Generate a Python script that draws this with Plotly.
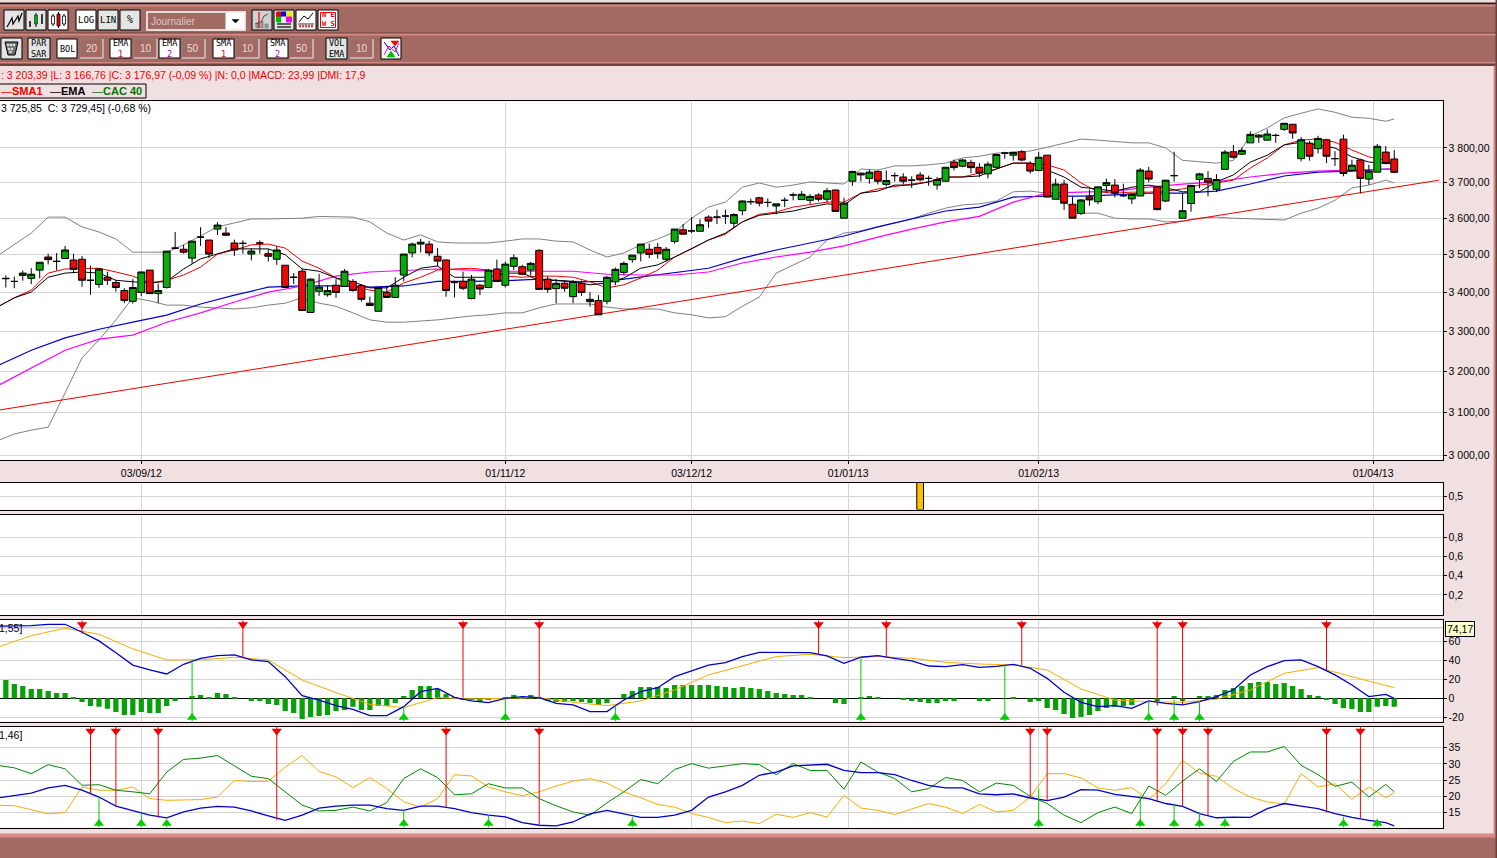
import numpy as np
import plotly.graph_objects as go

W, H = 1497, 858

opens = [3436, 3429, 3445, 3437, 3459, 3494, 3483, 3490, 3486, 3488,
         3432, 3421, 3440, 3426, 3405, 3377, 3400, 3459, 3397, 3413,
         3518, 3515, 3491, 3548, 3540, 3570, 3559, 3532, 3531, 3502,
         3532, 3503, 3488, 3472, 3440, 3456, 3348, 3403, 3394, 3419,
         3416, 3429, 3418, 3372, 3351, 3400, 3387, 3446, 3505, 3529,
         3529, 3496, 3486, 3426, 3429, 3384, 3419, 3413, 3462,
         3419, 3469, 3468, 3459, 3512, 3435, 3410, 3424, 3389, 3424,
         3376, 3379, 3377, 3428, 3453, 3487, 3505, 3515, 3520, 3488,
         3536, 3568, 3565, 3564, 3603, 3603, 3606, 3586, 3621, 3646,
         3657, 3644, 3634, 3650, 3665, 3652, 3650, 3665, 3653, 3679,
         3600, 3704, 3727, 3712, 3732, 3695, 3720, 3716, 3707, 3722,
         3712, 3693, 3704, 3759, 3747, 3758, 3744, 3725, 3744, 3785,
         3779, 3789, 3755, 3735, 3779, 3653, 3696, 3639, 3613, 3660,
         3646, 3692, 3693, 3663, 3654, 3662, 3733, 3688, 3648, 3720,
         3600, 3641, 3709, 3712, 3681, 3738, 3789, 3782, 3815, 3832,
         3823, 3837, 3855, 3870, 3769, 3814, 3798, 3824, 3769, 3826,
         3735, 3765, 3710, 3730, 3788, 3768]
highs = [3445, 3442, 3458, 3464, 3480, 3503, 3505, 3524, 3503, 3497,
         3471, 3464, 3455, 3433, 3411, 3435, 3455, 3459, 3423, 3510,
         3562, 3527, 3537, 3575, 3540, 3589, 3575, 3541, 3539, 3518,
         3539, 3515, 3523, 3472, 3451, 3462, 3437, 3449, 3419, 3435,
         3462, 3435, 3422, 3389, 3413, 3417, 3440, 3502, 3533, 3543,
         3538, 3518, 3488, 3431, 3455, 3446, 3422, 3462, 3487,
         3482, 3501, 3473, 3481, 3515, 3442, 3435, 3431, 3433, 3431,
         3401, 3393, 3443, 3466, 3482, 3499, 3529, 3530, 3532, 3521,
         3570, 3584, 3603, 3597, 3608, 3624, 3624, 3614, 3650, 3655,
         3660, 3655, 3640, 3658, 3672, 3676, 3667, 3670, 3685, 3680,
         3657, 3734, 3729, 3737, 3735, 3735, 3729, 3727, 3718, 3730,
         3720, 3716, 3744, 3766, 3768, 3766, 3756, 3760, 3783, 3789,
         3789, 3794, 3761, 3789, 3779, 3711, 3708, 3660, 3653, 3680,
         3688, 3711, 3710, 3697, 3670, 3742, 3745, 3688, 3707, 3789,
         3670, 3693, 3728, 3733, 3724, 3794, 3809, 3801, 3849, 3840,
         3855, 3842, 3873, 3870, 3832, 3821, 3836, 3827, 3791, 3839,
         3766, 3769, 3751, 3812, 3806, 3794]
lows = [3413, 3411, 3431, 3422, 3437, 3474, 3458, 3490, 3451, 3415,
        3394, 3412, 3420, 3402, 3372, 3371, 3391, 3396, 3372, 3410,
        3515, 3503, 3476, 3524, 3491, 3554, 3552, 3497, 3503, 3485,
        3503, 3482, 3473, 3413, 3422, 3353, 3348, 3391, 3389, 3386,
        3415, 3402, 3376, 3365, 3351, 3387, 3387, 3429, 3493, 3506,
        3496, 3469, 3389, 3387, 3406, 3382, 3393, 3411, 3428,
        3413, 3459, 3446, 3444, 3408, 3399, 3372, 3402, 3372, 3391,
        3363, 3341, 3369, 3419, 3445, 3479, 3482, 3491, 3490, 3482,
        3530, 3556, 3559, 3564, 3574, 3584, 3584, 3574, 3608, 3637,
        3633, 3631, 3611, 3631, 3650, 3652, 3640, 3647, 3645, 3619,
        3600, 3691, 3703, 3697, 3695, 3689, 3703, 3695, 3685, 3703,
        3691, 3680, 3704, 3735, 3744, 3727, 3716, 3712, 3741, 3769,
        3763, 3761, 3726, 3732, 3659, 3653, 3623, 3600, 3609, 3635,
        3639, 3672, 3658, 3659, 3640, 3662, 3701, 3622, 3645, 3703,
        3600, 3618, 3684, 3661, 3673, 3738, 3769, 3780, 3815, 3815,
        3822, 3815, 3850, 3827, 3761, 3763, 3784, 3756, 3748, 3718,
        3731, 3669, 3694, 3730, 3752, 3727]
closes = [3437, 3429, 3451, 3448, 3480, 3487, 3482, 3513, 3461, 3432,
          3432, 3462, 3432, 3413, 3379, 3413, 3454, 3397, 3405, 3510,
          3518, 3507, 3537, 3548, 3502, 3581, 3553, 3513, 3531, 3510,
          3532, 3496, 3513, 3413, 3440, 3353, 3435, 3414, 3405, 3400,
          3456, 3405, 3382, 3366, 3413, 3387, 3419, 3502, 3529, 3534,
          3505, 3483, 3405, 3426, 3411, 3435, 3409, 3459, 3429,
          3475, 3492, 3448, 3477, 3408, 3408, 3424, 3411, 3429, 3400,
          3382, 3342, 3440, 3461, 3477, 3499, 3529, 3501, 3503, 3515,
          3570, 3556, 3565, 3582, 3592, 3603, 3606, 3610, 3648, 3646,
          3642, 3644, 3640, 3650, 3665, 3667, 3661, 3653, 3677, 3619,
          3642, 3732, 3722, 3730, 3704, 3706, 3720, 3704, 3707, 3708,
          3712, 3709, 3744, 3743, 3765, 3743, 3727, 3753, 3781, 3785,
          3787, 3765, 3733, 3773, 3659, 3696, 3642, 3600, 3651, 3651,
          3688, 3700, 3670, 3663, 3667, 3736, 3710, 3624, 3707, 3720,
          3621, 3692, 3725, 3701, 3709, 3788, 3773, 3793, 3840, 3838,
          3841, 3837, 3873, 3844, 3824, 3776, 3828, 3776, 3769, 3726,
          3750, 3712, 3733, 3805, 3755, 3729.45]

line_idx = list(range(-1, 164, 4)) + [164]
mid_idx = list(range(1, 164, 4))
di_idx = list(range(-1, 164, 2)) + [164]

sma1 = [3362, 3406, 3462, 3464, 3443, 3432, 3467, 3513, 3529, 3483, 3438, 3406, 3425, 3459, 3464,
        3443, 3443, 3440, 3412, 3438, 3494, 3540, 3590, 3617, 3637, 3645, 3682, 3696, 3716, 3727,
        3756, 3751, 3699, 3670, 3673, 3682, 3699, 3742, 3809, 3827, 3794, 3764, 3756]
sma1_mid = [3386, 3451, 3464, 3454, 3425, 3446, 3502, 3527, 3518, 3464, 3417, 3401, 3440, 3462, 3459,
            3440, 3443, 3428, 3420, 3459, 3516, 3556, 3611, 3631, 3645, 3670, 3690, 3702, 3716, 3739,
            3756, 3736, 3674, 3673, 3676, 3693, 3707, 3771, 3823, 3817, 3774]
ema1 = [3362, 3401, 3451, 3451, 3428, 3429, 3489, 3516, 3516, 3462, 3438, 3412, 3440, 3470, 3440,
        3451, 3432, 3429, 3425, 3464, 3494, 3540, 3590, 3614, 3631, 3637, 3676, 3693, 3716, 3719,
        3756, 3736, 3687, 3676, 3693, 3674, 3702, 3759, 3809, 3809, 3774, 3756, 3753]
ema1_mid = [3386, 3440, 3454, 3432, 3425, 3462, 3502, 3516, 3500, 3456, 3428, 3412, 3464, 3440, 3440,
            3451, 3432, 3420, 3438, 3473, 3516, 3559, 3608, 3620, 3640, 3670, 3693, 3702, 3716, 3739,
            3756, 3716, 3682, 3687, 3685, 3674, 3722, 3779, 3817, 3800, 3759]
ema2 = [3213, 3252, 3283, 3305, 3323, 3341, 3370, 3393, 3414, 3417, 3417, 3414, 3417, 3429, 3429,
        3431, 3435, 3428, 3429, 3440, 3451, 3464, 3491, 3513, 3532, 3551, 3576, 3598, 3620, 3631,
        3659, 3662, 3662, 3665, 3670, 3670, 3676, 3696, 3719, 3730, 3733, 3739, 3739]
sma2 = [3164, 3208, 3252, 3280, 3290, 3323, 3347, 3375, 3401, 3417, 3443, 3454, 3459, 3462, 3459,
        3456, 3456, 3456, 3448, 3446, 3446, 3454, 3478, 3494, 3507, 3524, 3548, 3570, 3590, 3605,
        3645, 3670, 3673, 3676, 3687, 3696, 3702, 3716, 3727, 3733, 3736, 3739, 3739]
bol_up = [3497, 3559, 3603, 3562, 3507, 3507, 3551, 3587, 3598, 3600, 3603, 3590, 3540, 3535, 3532,
          3537, 3543, 3535, 3494, 3527, 3562, 3631, 3687, 3687, 3702, 3696, 3736, 3748, 3756, 3776,
          3788, 3802, 3826, 3820, 3815, 3764, 3756, 3835, 3889, 3916, 3891, 3879, 3886]
bol_up_mid = [3527, 3603, 3576, 3543, 3507, 3527, 3576, 3598, 3598, 3605, 3603, 3559, 3554, 3532, 3532,
              3543, 3537, 3513, 3505, 3543, 3600, 3645, 3699, 3693, 3699, 3739, 3748, 3751, 3771, 3785,
              3791, 3815, 3823, 3815, 3800, 3759, 3764, 3859, 3903, 3906, 3888]
bol_low = [3033, 3058, 3147, 3278, 3386, 3367, 3362, 3357, 3367, 3386, 3364, 3329, 3323, 3329, 3339,
           3347, 3360, 3370, 3362, 3357, 3347, 3334, 3364, 3451, 3494, 3559, 3576, 3598, 3628, 3640,
           3674, 3670, 3614, 3600, 3598, 3592, 3603, 3598, 3595, 3628, 3685, 3707, 3699]
bol_low_mid = [3049, 3065, 3233, 3329, 3378, 3367, 3360, 3360, 3372, 3372, 3347, 3323, 3326, 3334, 3342,
               3347, 3370, 3370, 3357, 3357, 3342, 3337, 3388, 3473, 3540, 3565, 3587, 3614, 3637, 3648,
               3676, 3645, 3614, 3598, 3590, 3600, 3600, 3595, 3614, 3650, 3693]
trend_idx = [-1, 169.3]
trend_val = [3105, 3707]

macd_hist = [19.3, 15.1, 13, 9.8, 9.8, 7.7, 5.6, 5.6, 1.4, -3.9,
             -8, -9, -11, -14.4, -17.5, -17.5, -14.4, -15.4, -15.4, -8,
             -2.8, 0, 2.5, 3.5, 1.4, 5.6, 4.6, 1.4, 0, -2.8,
             -2.8, -6, -7, -13.3, -15.4, -21.8, -19.6, -18.6, -17.5, -13.3,
             -12.3, -9, -12.3, -12.3, -8, -8, -4.9, 2.5, 8.8, 13,
             13, 9.8, 4.6, 1.4, -1.8, -1.8, -3.9, -1.8, -0.7,
             0.5, 3.5, 1.4, 3.5, 1.4, -2.8, -3.9, -3.9, -2.8, -3.9,
             -4.9, -7, -4.9, 0, 4.6, 7.7, 11.9, 11.9, 11.9, 10.9,
             14, 14, 14, 14, 14, 13, 11.9, 10.9, 11.9, 10.9,
             9.8, 7.7, 5.6, 4.6, 3.5, 3.5, 1.4, 0, 0, -4.9,
             -6, 0, 1.4, 2.5, 1.4, 0, 0, -1.8, -2.8, -3.9,
             -4.9, -4.9, -2.8, -2.8, 0, 0, -2.8, -2.8, 0, 0,
             1.4, 0, -3.9, -2.8, -10.2, -12.3, -16.5, -20.7, -19.6, -17.5,
             -13.3, -10.2, -9, -8, -7, 0, 0, -2.8, 0, 2.5,
             -2.8, 0, 2.5, 2.5, 3.5, 8.8, 10.9, 13, 16.1, 17.2,
             17.2, 15.1, 16.1, 13, 9.8, 3.5, 2.5, -1.8, -6, -10.2,
             -11.2, -14.4, -14.4, -9, -8, -9]
macd_line = [76, 76.5, 77.9, 60.4, 35, 25.6, 42, 45.6, 38.6, 2.8, -7.7, -18.2, -8.8, 10.5, -2.8,
             0, 0.7, -7, -14, 7, 22.8, 35, 43.9, 48.4, 48, 36.8, 44.9, 39.3, 33.3, 32.6,
             35.8, 21, -4.2, -7.7, -2.8, -7, 1.8, 24.6, 39.6, 33.3, 14, 4.2, 0]
macd_line_mid = [76.1, 77.9, 69.5, 48, 29.8, 35.8, 44.9, 40.4, 22.8, -1.8, -11.6, -18.2, 7, 1, -4.6,
                 1.8, -5.3, -14, -1.8, 11.2, 28.8, 37.5, 48.4, 48.4, 44.6, 43.2, 42.1, 34, 35.4, 33.7,
                 31.6, 6.3, -8.8, -10.5, -5.3, -3.5, 8.8, 33.3, 40.4, 24.6, 1.8]
macd_sig = [53.7, 66, 73.7, 67.4, 52, 40.4, 40.4, 43.2, 40.4, 19.3, 6, -6.3, -9.8, 0.7, -0.7,
            0, 0.7, -4.2, -7.7, -2.8, 8.8, 24.6, 34.4, 43.9, 46.3, 42.8, 43.9, 42.1, 37.9, 36.1,
            35.1, 29.8, 9.8, -1.8, -3.5, -4.2, -1, 8.8, 26.3, 32.3, 22.8, 13, 11.2]
macd_last = 74.17
macd_sell_idx = [9, 28, 54, 63, 96, 104, 120, 136, 139, 156]
macd_sell_val = [68, 42.8, 0.7, 0.7, 45.6, 43.9, 35, -7.7, -6.3, 29.8]
macd_buy_idx = [22, 47, 59, 72, 101, 118, 135, 138, 141]
macd_buy_val = [41, -8.8, 0, -8.8, 43.9, 35, -2.8, -1.8, -2.8]

adx = [19.5, 21, 23.4, 19.8, 15.5, 13.4, 16.4, 16.7, 14, 14.2, 17, 17.3, 15.7, 17, 15,
       13.7, 11.1, 12.1, 15.7, 13.5, 14.2, 19.8, 23.4, 27.5, 29.6, 28, 27.3, 24.9, 22.6, 20.8,
       20.8, 18.7, 22.1, 20.6, 19.3, 16.9, 13.4, 13.5, 17.8, 16.2, 13.5, 11.9, 10.9]
adx_mid = [20.3, 22.6, 21.9, 17, 14.2, 15.2, 16.9, 15.5, 12.6, 16.4, 17.3, 16.2, 17, 16.2, 14.2,
           11.9, 10.9, 14.6, 14.5, 13.5, 15.7, 21.4, 26.5, 29.4, 29.9, 27.3, 26.7, 23.4, 22.6, 20.5,
           19.5, 19.8, 21.9, 20, 17.8, 14.7, 13.6, 16.2, 17, 14.7, 12.6]
di_plus = [29.6, 28.8, 27, 29.8, 28.5, 23.4, 23.6, 21.9, 21.4, 20.8, 27.5, 31.4, 31.8, 32.6, 29.4,
           26.2, 25.5, 21.4, 17.3, 15.5, 15.7, 16.7, 15.5, 18.1, 25.5, 28.5, 25.8, 20.5, 20.8, 23.9,
           22.6, 22.6, 19.3, 17.1, 15.2, 14.2, 18, 21.4, 25.2, 23.9, 28.3, 30.1, 28.7, 29.4, 30.1,
           29.8, 26.7, 30.1, 28, 28, 22.2, 30.6, 27.5, 25.5, 21.4, 22.4, 25.8, 24.9, 21.4, 24.1,
           23.4, 20, 17.8, 14.2, 11.9, 15, 16.7, 14.7, 23.2, 20.3, 24.7, 28.5, 24.6, 30.8, 33.7,
           33.7, 35.4, 29.6, 26.7, 23.1, 24.4, 19.8, 23.7, 21.4]
di_minus = [17.3, 17.1, 15.9, 14.6, 15, 22.9, 21.9, 21.9, 22.9, 19.3, 18.8, 18.8, 19, 19.8, 24.9,
            24.6, 24.7, 29, 32.6, 27.7, 26, 22.7, 25.8, 22.4, 18.3, 16.7, 19.3, 26.7, 26.3, 22.9,
            21.4, 20.2, 21.4, 23.2, 24.7, 25.5, 24.1, 21.4, 19.6, 17.5, 16.7, 14.7, 13.5, 11.9, 12.4,
            11.6, 14.5, 13.5, 15, 13.6, 20.3, 16.4, 15.7, 14.4, 16.2, 17.8, 16.7, 14.7, 17.5, 15.2,
            15.7, 19.8, 27, 27, 25.7, 22.6, 21.9, 22.7, 19, 23.9, 31.1, 27.2, 26.2, 22.4, 19.8,
            18.3, 17.6, 27, 22.9, 23.9, 19.1, 22.9, 19.6, 21.2]
dmi_sell_idx = [10, 13, 18, 32, 52, 63, 121, 123, 136, 139, 142, 156, 160]
dmi_sell_val = [20.6, 17, 13.4, 12.6, 16.7, 10.9, 19.8, 18.7, 18.5, 17, 14.2, 15, 13.2]
dmi_buy_idx = [11, 16, 19, 47, 57, 74, 122, 134, 138, 141, 144, 158, 162]
dmi_buy_val = [19.8, 15, 12.3, 15.9, 14.2, 13.7, 22.4, 20.3, 17.8, 15.2, 13.5, 13.7, 13]

volume_idx = [108]
volume_val = [1]

date_pos = [16, 59, 81, 99.5, 122, 161.5]
date_labels = ["03/09/12", "01/11/12", "03/12/12", "01/01/13", "01/02/13", "01/04/13"]
price_ticks = [3000, 3100, 3200, 3300, 3400, 3500, 3600, 3700, 3800]
price_labels = ["3 000,00", "3 100,00", "3 200,00", "3 300,00", "3 400,00",
                "3 500,00", "3 600,00", "3 700,00", "3 800,00"]

BROWN = "#A26A62"
PINK = "#F0E0E2"
SALMON = "#D88A82"
DARK = "#6A423E"
GREY_BTN = "#E4E4E4"
GRID = "#D4D4D4"
RED = "#EE0000"
SIGNAL_GREEN = "#00CC00"
BLUE = "#0000CC"
ORANGE = "#F5AE00"
FONT = "Liberation Sans"
MONO = "DejaVu Sans Mono"

bars = list(range(len(closes)))
x_range = [-0.69, 169.7]
right = 1442.5 / W


def dom(top, bottom):
    return [1 - bottom / H, 1 - top / H]


def stems(idx, vals, end):
    xs, ys = [], []
    for i, v in zip(idx, vals):
        xs += [i, i, None]
        ys += [end, v, None]
    return xs, ys


def merged(vals, mids):
    pts = sorted(list(zip(line_idx, vals)) + list(zip(mid_idx, mids)))
    return [p[0] for p in pts], [p[1] for p in pts]


fig = go.Figure()

for vals, color, width in [(merged(bol_up, bol_up_mid), "#808080", 1), (merged(bol_low, bol_low_mid), "#808080", 1),
                           ((line_idx, ema2), BLUE, 1.2), ((line_idx, sma2), "#FF00FF", 1.2),
                           (merged(sma1, sma1_mid), RED, 1), (merged(ema1, ema1_mid), "#000000", 1)]:
    fig.add_trace(go.Scatter(x=vals[0], y=vals[1], mode="lines", line=dict(color=color, width=width),
                             xaxis="x", yaxis="y"))
fig.add_trace(go.Scatter(x=trend_idx, y=trend_val, mode="lines", line=dict(color=RED, width=1),
                         xaxis="x", yaxis="y"))

# candles go on an overlay so they sit above the lines
fig.add_trace(go.Candlestick(x=bars, open=opens, high=highs, low=lows, close=closes,
                             increasing=dict(line=dict(color="#000000", width=1), fillcolor="#0BAA0B"),
                             decreasing=dict(line=dict(color="#000000", width=1), fillcolor="#EE0808"),
                             whiskerwidth=0, xaxis="x6", yaxis="y6"))

fig.add_trace(go.Bar(x=volume_idx, y=volume_val, width=0.8,
                     marker=dict(color="#FFC000", line=dict(color="#000000", width=1)),
                     xaxis="x2", yaxis="y2"))
fig.add_trace(go.Scatter(x=[0], y=[None], xaxis="x3", yaxis="y3"))

# MACD
fig.add_trace(go.Bar(x=bars, y=macd_hist, width=0.62, marker=dict(color="#07A007", line=dict(width=0)),
                     xaxis="x4", yaxis="y4"))
fig.add_trace(go.Scatter(x=line_idx, y=macd_sig, mode="lines", line=dict(color=ORANGE, width=1), xaxis="x4", yaxis="y4"))
macd_x, macd_y = merged(macd_line, macd_line_mid)
fig.add_trace(go.Scatter(x=macd_x, y=macd_y, mode="lines", line=dict(color=BLUE, width=1.3), xaxis="x4", yaxis="y4"))

# DMI
fig.add_trace(go.Scatter(x=di_idx, y=di_minus, mode="lines", line=dict(color=ORANGE, width=1), xaxis="x5", yaxis="y5"))
fig.add_trace(go.Scatter(x=di_idx, y=di_plus, mode="lines", line=dict(color="#008800", width=1), xaxis="x5", yaxis="y5"))
adx_x, adx_y = merged(adx, adx_mid)
fig.add_trace(go.Scatter(x=adx_x, y=adx_y, mode="lines", line=dict(color=BLUE, width=1.3), xaxis="x5", yaxis="y5"))

for ax, top, bot, s_i, s_v, b_i, b_v in [("4", 82, -24.4, macd_sell_idx, macd_sell_val, macd_buy_idx, macd_buy_val),
                                         ("5", 41.4, 10.4, dmi_sell_idx, dmi_sell_val, dmi_buy_idx, dmi_buy_val)]:
    sx_, sy_ = stems(s_i, s_v, top)
    bx_, by_ = stems(b_i, b_v, bot)
    fig.add_trace(go.Scatter(x=sx_, y=sy_, mode="lines", line=dict(color=RED, width=1), xaxis="x" + ax, yaxis="y" + ax))
    fig.add_trace(go.Scatter(x=bx_, y=by_, mode="lines", line=dict(color=SIGNAL_GREEN, width=1), xaxis="x" + ax, yaxis="y" + ax))
    pad = (top - bot) * 0.04
    fig.add_trace(go.Scatter(x=s_i, y=[top - pad] * len(s_i), mode="markers",
                             marker=dict(symbol="triangle-down", size=9, color=RED), xaxis="x" + ax, yaxis="y" + ax))
    fig.add_trace(go.Scatter(x=b_i, y=[bot + pad] * len(b_i), mode="markers",
                             marker=dict(symbol="triangle-up", size=9, color=SIGNAL_GREEN), xaxis="x" + ax, yaxis="y" + ax))

shapes = []
annots = []


def sx(x):
    return x / W


def sy(y):
    return 1 - y / H


def rect(x0, y0, x1, y1, fill, line=None, width=1):
    shapes.append(dict(type="rect", xref="paper", yref="paper", x0=sx(x0), x1=sx(x1), y0=sy(y0), y1=sy(y1),
                       fillcolor=fill, line=dict(color=line or fill, width=width), layer="below"))


def poly(points, color="#000000", width=1, fill=None):
    path = "M " + " L ".join(f"{sx(px):.5f},{sy(py):.5f}" for px, py in points)
    if fill:
        path += " Z"
    shapes.append(dict(type="path", xref="paper", yref="paper", path=path, fillcolor=fill or "rgba(0,0,0,0)",
                       line=dict(color=color, width=width), layer="below"))


def text(x, y, s, size=10, color="#000000", anchor="left", family=FONT, bg=None, border=None):
    a = dict(xref="paper", yref="paper", x=sx(x), y=sy(y), text=s, showarrow=False, xanchor=anchor, yanchor="middle",
             font=dict(family=family, size=size, color=color), align="center", borderpad=0, borderwidth=0)
    if bg:
        a.update(bgcolor=bg, bordercolor=border, borderwidth=1, borderpad=1)
    annots.append(a)


# window frame
rect(0, 0, W, 65, BROWN)
rect(0, 0, W, 3, "#EDE0DE")
rect(0, 3, W, 4, "#2A1A18")
rect(0, 5, W, 6, SALMON)
rect(0, 33, W, 33.5, DARK)
rect(0, 34, W, 35, SALMON)
rect(0, 62.5, W, 63.5, SALMON)
rect(0, 64, W, 65.5, DARK)
rect(0, 837, W, H, BROWN)
rect(0, 834, W, 837, SALMON)
rect(1494, 66, 1496, 837, SALMON)
rect(1496, 0, W, H, DARK)


def button(x0, x1, y0, y1, label="", fill=GREY_BTN, size=9, color="#000000"):
    rect(x0, y0, x1, y1, fill, "#000000", 1)
    if label:
        text((x0 + x1) / 2, (y0 + y1) / 2, label, size=size, color=color, anchor="center", family=MONO)


def entry(x0, x1, y0, y1, label):
    rect(x0, y0, x1, y1, BROWN, "#8A8080", 1)
    poly([(x0, y1), (x1, y1), (x1, y0)], "#F0E8E8", 1)
    text((x0 + x1) / 2, (y0 + y1) / 2, label, size=10, color="#E8DCDC", anchor="center", family=FONT)


# first toolbar row
button(4, 24, 10, 30)
poly([(7, 27), (12, 18), (13, 24), (18, 16), (19, 21), (22, 13)], "#000000", 1.2)
button(26, 46, 10, 30)
poly([(30, 21), (30, 27)], "#000000", 1.5)
poly([(36, 13), (36, 27)], "#000000", 1)
rect(34.5, 15, 37.5, 24, "#0BAA0B", "#000000", 0.5)
poly([(42, 14), (42, 24)], "#000000", 1.5)
button(48, 68, 10, 30, fill="#FFFFFF")
for cx, top, bot, color in [(53, 14, 26, "#FFFFFF"), (58.5, 12, 28, RED), (64, 14, 26, "#FFFFFF")]:
    poly([(cx, top), (cx, bot)], "#000000", 1)
    rect(cx - 1.5, top + 2, cx + 1.5, bot - 2, color, "#000000", 0.8)
button(76, 96, 10, 30, "LOG", fill="#FFFFFF")
button(98, 118, 10, 30, "LIN")
button(120, 140, 10, 30, "%", size=10)
rect(147, 12, 245, 30, BROWN, "#FFFFFF", 1.5)
text(151, 21, "Journalier", size=10, color="#D8C8C8")
rect(226, 13, 244, 29, "#FFFFFF")
poly([(232, 19.5), (239, 19.5), (235.5, 23)], "#000000", 0.5, fill="#000000")

button(252, 272, 10, 30, fill="#D0D0D0")
rect(256, 23, 259, 28, "#909090")
rect(261, 21, 263, 28, "#909090")
rect(265, 24, 268, 28, "#909090")
poly([(259, 12), (259, 28)], RED, 1.2)
poly([(255, 24), (261, 22), (264, 16), (268, 14)], "#505050", 1)

button(274, 294, 10, 30)
for cx, cy, color in [(279, 14.5, RED), (284, 14.5, "#0000EE"), (289, 14.5, "#EEEE00"),
                      (279, 19.5, "#00BB00"), (284, 19.5, "#EEEEEE"), (289, 19.5, "#EE00EE")]:
    rect(cx - 2.5, cy - 2.5, cx + 2.5, cy + 2.5, color)
poly([(277, 24), (291, 24)], "#000000", 1.2)
poly([(277, 27), (291, 27)], "#000000", 1.2)

button(296, 316, 10, 30, fill="#FFFFFF")
poly([(299, 22), (304, 16), (308, 19), (313, 13)], "#000000", 1)
poly([(298, 24), (314, 24)], "#000000", 0.8)
for bx in (300, 303, 306, 309, 312):
    poly([(bx, 27.5), (bx, 25)], RED, 1.5)

button(318, 338, 10, 30, fill="#FFFFFF")
rect(320.5, 12.5, 335.5, 27.5, "#FFFFFF", RED, 1)
text(328, 20, "<b>N E<br>W S</b>", size=7, color=RED, anchor="center", family=MONO)

# second toolbar row
button(1, 22, 38, 59)
poly([(5, 42), (18, 42), (15, 55), (8, 55)], "#000000", 1, fill="#707070")
for dx, dy in [(8, 45), (11, 45), (14, 45), (9, 49), (12, 49), (10.5, 52)]:
    rect(dx - 0.7, dy - 0.7, dx + 0.7, dy + 0.7, "#E8E8E8")
button(28, 50, 38, 59, "PAR<br>SAR", size=8.5)
button(57, 77, 39, 58, "BOL", fill="#FFFFFF", size=8.5)
entry(80, 103, 39, 58, "20")
button(110, 131, 39, 58, "EMA<br><span style='color:#DD0000'>1</span>", fill="#FFFFFF", size=8.5)
entry(134, 157, 39, 58, "10")
button(159, 180, 39, 58, "EMA<br><span style='color:#AA00AA'>2</span>", fill="#FFFFFF", size=8.5)
entry(182, 205, 39, 58, "50")
button(213, 234, 39, 58, "SMA<br><span style='color:#DD0000'>1</span>", fill="#FFFFFF", size=8.5)
entry(236, 259, 39, 58, "10")
button(267, 288, 39, 58, "SMA<br><span style='color:#AA00AA'>2</span>", fill="#FFFFFF", size=8.5)
entry(290, 313, 39, 58, "50")
button(326, 347, 38, 59, "VOL<br>EMA", size=8.5)
entry(350, 373, 39, 58, "10")
button(381, 401, 38, 59, fill="#F8F8F8")
poly([(384, 42), (390, 50), (394, 46), (399, 56)], "#0000EE", 1)
poly([(384, 55), (389, 46), (395, 52), (399, 43)], "#EE00EE", 1)
poly([(391, 41), (399, 41), (395, 46)], RED, 0.5, fill=RED)
poly([(387, 57), (395, 57), (391, 51)], "#00BB00", 0.5, fill="#00BB00")

# info line and legend
text(1, 75, ": 3 203,39 |L: 3 166,76 |C: 3 176,97 (-0,09 %) |N: 0,0 |MACD: 23,99 |DMI: 17,9", size=10.5, color="#EE0000")
rect(-2, 84, 146, 98, PINK, "#000000", 1)
text(1, 91, "—<b>SMA1</b>", size=11, color="#EE0000")
text(50, 91, "—<b>EMA</b>", size=11, color="#000000")
text(92, 91, "—<b>CAC 40</b>", size=11, color="#007700")

text(1, 108.5, "3 725,85  C: 3 729,45] (-0,68 %)", size=10.5)
text(-1, 628, "1,55]", size=10.5)
text(-1, 735, "1,46]", size=10.5)
text(1460, 628.5, "74,17", size=10.5, anchor="center", bg="#FFFFCC", border="#000000")

# last MACD value level
shapes.append(dict(type="line", xref="x4", yref="y4", x0=x_range[0], x1=x_range[1], y0=macd_last, y1=macd_last,
                   line=dict(color="#B4B4B4", width=1), layer="below"))

axis_common = dict(range=x_range, showgrid=True, gridcolor=GRID, gridwidth=1, tickvals=date_pos, zeroline=False,
                   showline=True, linecolor="#000000", linewidth=1, mirror=True, domain=[0, right])
y_common = dict(side="right", showgrid=True, gridcolor=GRID, gridwidth=1, zeroline=False, showline=True,
                linecolor="#000000", linewidth=1, mirror=True, ticks="outside", ticklen=3, tickcolor="#000000",
                tickfont=dict(family=FONT, size=10.5, color="#000000"), fixedrange=True)

log_range = [float(np.log10(2988.5)), float(np.log10(3940))]

fig.update_layout(
    width=W, height=H, margin=dict(l=0, r=0, t=0, b=0), autosize=False,
    paper_bgcolor=PINK, plot_bgcolor="#FFFFFF", showlegend=False, barmode="overlay", hovermode=False,
    boxgap=0.1, boxgroupgap=0.1,
    shapes=shapes, annotations=annots,
    xaxis=dict(axis_common, anchor="y", ticktext=date_labels, ticks="outside", ticklen=3, tickcolor="#000000",
               tickfont=dict(family=FONT, size=10.5, color="#000000")),
    yaxis=dict(y_common, type="log", range=log_range, domain=dom(101, 460), anchor="x",
               tickvals=price_ticks, ticktext=price_labels),
    xaxis2=dict(axis_common, anchor="y2", showticklabels=False),
    yaxis2=dict(y_common, range=[0, 1], domain=dom(482.5, 509.5), anchor="x2", tickvals=[0.5], ticktext=["0,5"]),
    xaxis3=dict(axis_common, anchor="y3", showticklabels=False),
    yaxis3=dict(y_common, range=[-0.01, 1.04], domain=dom(514.5, 615), anchor="x3",
                tickvals=[0.2, 0.4, 0.6, 0.8], ticktext=["0,2", "0,4", "0,6", "0,8"]),
    xaxis4=dict(axis_common, anchor="y4", showticklabels=False),
    yaxis4=dict(y_common, range=[-24.4, 82.4], domain=dom(620, 721.5), anchor="x4",
                tickvals=[-20, 0, 20, 40, 60], ticktext=["-20", "0", "20", "40", "60"],
                zeroline=True, zerolinecolor="#000000", zerolinewidth=1),
    xaxis5=dict(axis_common, anchor="y5", showticklabels=False),
    yaxis5=dict(y_common, range=[10.4, 41.4], domain=dom(727, 827.5), anchor="x5",
                tickvals=[15, 20, 25, 30, 35], ticktext=["15", "20", "25", "30", "35"]),
    xaxis6=dict(range=x_range, overlaying="x", anchor="y6", visible=False, rangeslider=dict(visible=False), domain=[0, right]),
    yaxis6=dict(type="log", range=log_range, overlaying="y", anchor="x6", visible=False, domain=dom(101, 460)),
)

fig.write_html("out.html", config=dict(displayModeBar=False),
               post_script="document.body.style.margin='0';document.body.style.overflow='hidden';")
